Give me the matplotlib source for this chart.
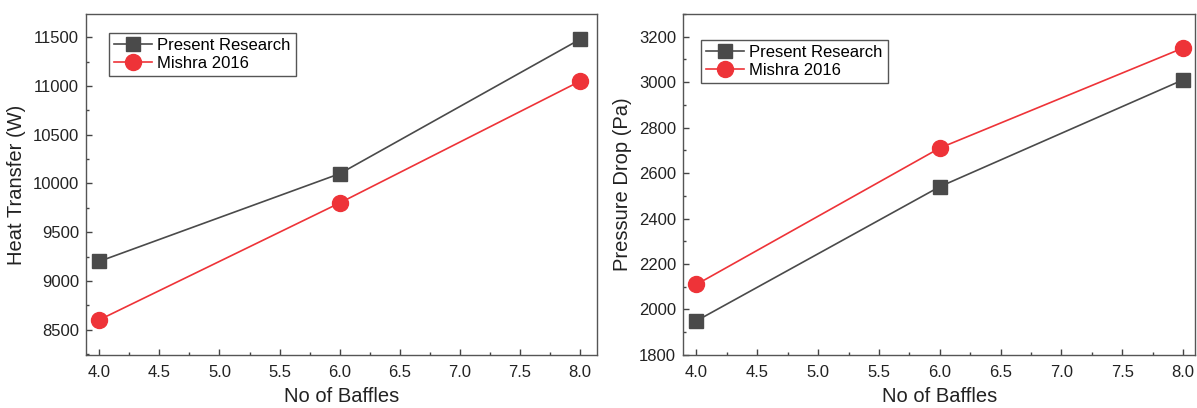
import matplotlib.pyplot as plt
from matplotlib.ticker import MultipleLocator

plt.rcParams['font.family'] = ['Liberation Sans', 'DejaVu Sans']

baffles = [4, 6, 8]
heat_present = [9200, 10100, 11480]
heat_mishra = [8600, 9800, 11050]
dp_present = [1950, 2540, 3010]
dp_mishra = [2110, 2710, 3150]
series_names = ["Present Research", "Mishra 2016"]

gray = "#4a4a4a"
red = "#ee3338"

fig = plt.figure(figsize=(11.97, 4.08), dpi=100)
ax1 = fig.add_axes([0.0718, 0.130, 0.427, 0.836])
ax2 = fig.add_axes([0.5706, 0.130, 0.428, 0.836])


def style(ax):
    ax.xaxis.set_major_locator(MultipleLocator(0.5))
    ax.xaxis.set_minor_locator(MultipleLocator(0.25))
    ax.tick_params(which='major', direction='in', length=4, width=1, labelsize=12,
                   colors='#444444', labelcolor='#222222')
    ax.tick_params(which='minor', direction='in', length=2.5, width=1, colors='#444444')
    ax.tick_params(axis='y', which='major', pad=5)
    ax.tick_params(axis='x', which='major', pad=7)
    ax.xaxis.set_major_formatter(plt.FormatStrFormatter('%.1f'))
    for s in ax.spines.values():
        s.set_color('#555555')
        s.set_linewidth(1.0)
    ax.set_xlabel("No of Baffles", fontsize=14.5, color='#222222', labelpad=5)


ax1.plot(baffles, heat_present, '-s', color=gray, lw=1.2, ms=10, label=series_names[0])
ax1.plot(baffles, heat_mishra, '-o', color=red, lw=1.2, ms=11.5, label=series_names[1])
ax1.set_xlim(3.89, 8.14)
ax1.set_ylim(8240, 11740)
ax1.yaxis.set_major_locator(MultipleLocator(500))
ax1.yaxis.set_minor_locator(MultipleLocator(250))
ax1.set_ylabel("Heat Transfer (W)", fontsize=14.5, color='#222222', labelpad=5)
style(ax1)
ax1.legend(loc='upper left', bbox_to_anchor=(0.045, 0.944), fontsize=12, fancybox=False,
           edgecolor='#555555', framealpha=1, borderpad=0.3, handlelength=2.3,
           handletextpad=0.3, labelspacing=0.2, borderaxespad=0)

ax2.plot(baffles, dp_present, '-s', color=gray, lw=1.2, ms=10, label=series_names[0])
ax2.plot(baffles, dp_mishra, '-o', color=red, lw=1.2, ms=11.5, label=series_names[1])
ax2.set_xlim(3.89, 8.1)
ax2.set_ylim(1800, 3300)
ax2.yaxis.set_major_locator(MultipleLocator(200))
ax2.yaxis.set_minor_locator(MultipleLocator(100))
ax2.set_ylabel("Pressure Drop (Pa)", fontsize=14.5, color='#222222', labelpad=5)
style(ax2)
ax2.legend(loc='upper left', bbox_to_anchor=(0.035, 0.924), fontsize=12, fancybox=False,
           edgecolor='#555555', framealpha=1, borderpad=0.3, handlelength=2.3,
           handletextpad=0.3, labelspacing=0.2, borderaxespad=0)

fig.savefig("out.png", dpi=100)
